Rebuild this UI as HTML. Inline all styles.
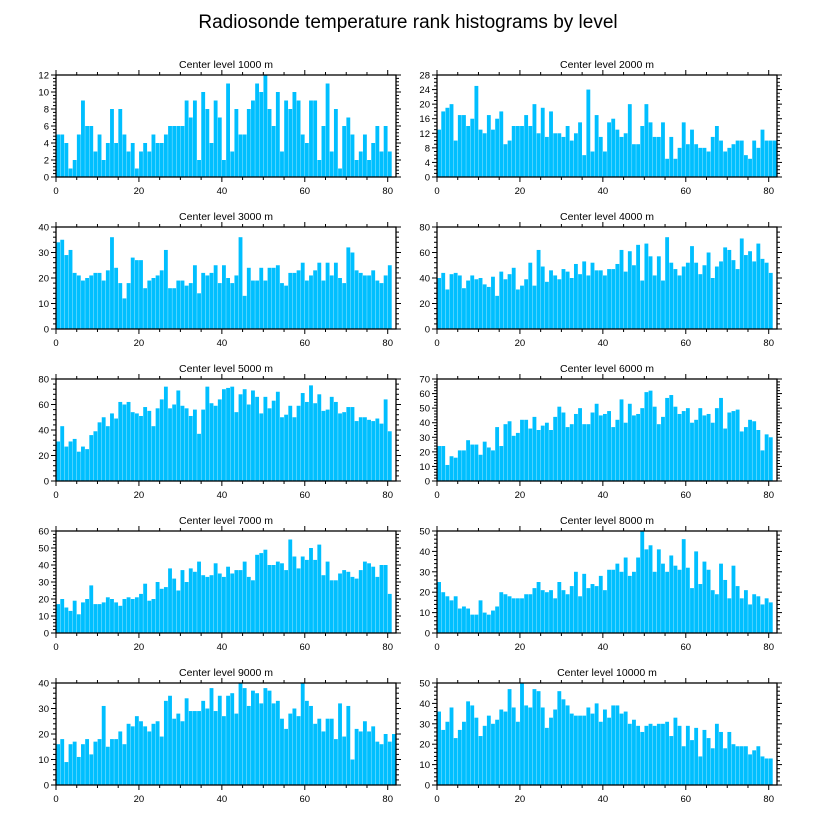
<!DOCTYPE html>
<html><head><meta charset="utf-8">
<style>
body{margin:0;background:#fff;}
svg text{font-family:"Liberation Sans",sans-serif;fill:#000;}
</style></head>
<body>
<svg id="chart" width="816" height="824" viewBox="0 0 816 824">
<text x="408" y="28" text-anchor="middle" font-size="19">Radiosonde temperature rank histograms by level</text>
</svg>
<script>
const levels = ["1000","2000","3000","4000","5000","6000","7000","8000","9000","10000"];
const yMaxes = [12,28,40,80,80,70,60,50,40,50];
const yMajorSteps = [2,4,10,20,20,10,10,10,10,10];
const xTicks = [0,20,40,60,80];
const counts1000 = [5,5,4,1,2,5,9,6,6,3,5,2,4,8,4,8,5,3,4,1,3,4,3,5,4,4,5,6,6,6,6,9,7,9,2,10,8,4,9,7,2,11,3,8,5,5,8,9,11,10,12,8,6,10,3,9,8,10,9,5,4,9,9,2,6,11,3,8,1,6,7,5,2,3,5,2,4,6,3,6,3];
const counts2000 = [13,18,19,20,10,17,17,14,16,25,13,12,17,13,16,18,9,10,14,14,14,17,14,20,12,19,11,18,12,12,11,14,10,12,15,6,24,7,17,11,7,15,16,13,11,12,20,9,9,14,20,15,11,11,15,5,11,5,8,15,9,13,9,8,8,7,11,14,10,7,8,9,10,10,6,5,10,8,13,10,10,10];
const counts3000 = [34,35,29,31,22,21,19,20,21,22,22,19,23,36,24,18,12,18,28,27,27,16,19,20,21,23,31,16,16,19,19,17,18,25,14,22,21,22,25,18,25,20,18,21,36,13,24,19,19,24,19,24,24,25,18,17,22,22,23,26,19,21,23,26,19,26,21,26,20,18,32,30,23,22,21,21,23,19,18,21,25];
const counts4000 = [40,44,31,43,44,42,32,38,42,39,40,35,33,41,26,45,39,43,48,31,34,39,52,34,62,49,37,46,42,39,47,45,40,51,43,53,42,52,46,46,42,47,47,51,62,45,61,50,66,38,67,57,42,57,38,72,52,47,42,49,52,65,52,43,50,60,40,49,53,64,62,54,47,71,58,61,53,67,55,52,44];
const counts5000 = [31,43,27,31,33,23,27,25,36,39,46,50,43,53,49,62,60,62,54,53,51,58,55,43,57,64,74,57,60,71,59,57,51,56,37,56,74,61,59,64,72,73,74,54,68,72,60,71,66,53,66,57,63,70,50,52,59,50,59,69,62,75,61,68,55,56,66,62,53,54,58,58,47,50,50,48,47,49,45,64,39];
const counts6000 = [24,24,11,17,16,21,21,28,25,25,18,27,23,21,37,24,39,41,31,33,42,42,36,44,35,38,40,35,44,51,47,37,39,46,50,39,39,47,53,45,46,48,37,42,56,40,53,45,46,50,61,62,51,39,44,57,59,51,46,48,50,40,42,50,45,46,40,50,57,36,47,48,49,34,37,42,41,35,21,32,30];
const counts7000 = [17,20,15,13,19,11,18,20,28,17,17,18,21,20,18,16,20,21,20,21,23,29,19,20,30,26,27,38,32,25,37,30,38,36,42,34,33,34,41,35,33,39,35,37,37,42,33,31,46,47,49,40,40,42,41,37,55,45,38,45,43,50,43,52,34,42,31,31,35,37,36,33,32,37,42,41,39,33,40,40,23];
const counts8000 = [25,20,18,16,18,12,13,12,9,9,16,10,9,11,13,20,19,18,17,17,17,19,19,22,25,21,20,21,17,25,21,19,23,30,18,29,22,24,23,28,21,31,31,34,30,37,28,30,37,50,41,43,30,41,34,30,38,33,31,46,32,22,40,24,35,31,21,19,34,26,17,33,23,17,21,14,19,18,14,17,15];
const counts9000 = [16,18,9,16,17,11,16,18,12,17,18,31,15,18,18,21,16,24,23,27,25,23,21,24,25,19,33,35,26,28,25,34,29,29,29,33,30,38,29,35,27,35,36,28,40,38,31,37,36,32,38,37,32,33,26,22,28,30,27,40,33,31,24,26,21,26,26,18,32,19,31,10,22,21,25,21,23,17,16,20,17,20];
const counts10000 = [36,27,31,38,23,27,31,41,39,33,24,29,34,30,32,37,36,47,38,31,50,39,38,47,46,38,28,33,37,46,42,39,35,34,34,34,38,35,40,31,37,33,39,39,35,36,30,32,29,26,29,30,29,30,30,31,24,33,29,19,29,22,28,14,27,23,18,30,26,18,26,20,19,19,19,15,17,19,14,13,13];
const allCounts = [counts1000,counts2000,counts3000,counts4000,counts5000,counts6000,counts7000,counts8000,counts9000,counts10000];

const NS="http://www.w3.org/2000/svg";
const svg=document.getElementById('chart');
function mk(tag,attrs,parent){const e=document.createElementNS(NS,tag);for(const k in attrs)e.setAttribute(k,attrs[k]);parent.appendChild(e);return e;}
const X_MAX=82, PW=340, PH=102;
for(let p=0;p<10;p++){
  const col=p%2, row=Math.floor(p/2);
  const L=col===0?56:437, T=75+row*152;
  const g=mk('g',{},svg);
  
  
  const xs=v=>L+v/X_MAX*PW;
  const ys=v=>T+PH-v/yMaxes[p]*PH;
  const t=mk('text',{x:L+PW/2,y:T-7,'text-anchor':'middle','font-size':'10.5'},g);
  t.textContent='Center level '+levels[p]+' m';
  
  
  const data=allCounts[p];
  data.forEach((v,i)=>{
    const r=mk('rect',{x:xs(i)+0.15,y:ys(v),width:PW/X_MAX-0.3,height:ys(0)-ys(v),fill:'#00BFFF'},g);
    
    
  });
  const fr=mk('rect',{x:L,y:T,width:PW,height:PH,fill:'none',stroke:'#000','stroke-width':1.3},g);
  
  
  for(let v=0;v<=X_MAX;v+=5){
    const major=v%20===0, len=major?5:3, x=xs(v);
    mk('line',{x1:x,x2:x,y1:T+PH,y2:T+PH+len,stroke:'#000','stroke-width':1},g);
    mk('line',{x1:x,x2:x,y1:T,y2:T-len,stroke:'#000','stroke-width':1},g);
  }
  xTicks.forEach(v=>{
    const tl=mk('text',{x:xs(v),y:T+PH+17,'text-anchor':'middle','font-size':'9.5'},g);
    tl.textContent=v;
    
    
  });
  const st=yMajorSteps[p], minor=st/(st===4?4:5);
  for(let k=0;k*minor<=yMaxes[p]+1e-9;k++){
    const v=k*minor, y=ys(v);
    const major=Math.abs(v/st-Math.round(v/st))<1e-6, len=major?5:3;
    mk('line',{x1:L,x2:L-len,y1:y,y2:y,stroke:'#000','stroke-width':1},g);
    mk('line',{x1:L+PW,x2:L+PW+len,y1:y,y2:y,stroke:'#000','stroke-width':1},g);
    if(major){
      const yl=mk('text',{x:L-7,y:y+3.5,'text-anchor':'end','font-size':'9.5'},g);
      yl.textContent=Math.round(v);
      
      
    }
  }
}
</script>
</body></html>
